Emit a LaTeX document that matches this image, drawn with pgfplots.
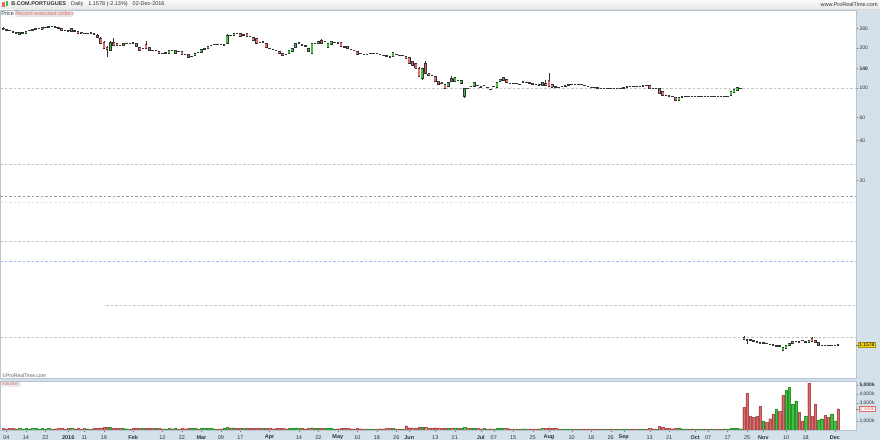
\documentclass[border=0pt]{standalone}
\usepackage{pgfplots}
\pgfplotsset{compat=1.18}
\usepackage{pgfplotstable}
\usepackage{fontspec}
\setmainfont{Liberation Sans}
\definecolor{panel}{HTML}{D4E1EB}
\definecolor{axisc}{HTML}{B4C4D2}
\definecolor{upc}{HTML}{3DC43D}
\definecolor{dnc}{HTML}{E26A6A}
\definecolor{outl}{HTML}{333333}
\definecolor{gridc}{HTML}{C4C4C4}
\definecolor{gridd}{HTML}{9C9C9C}
\definecolor{gridb}{HTML}{9DB8F2}
\definecolor{ybox}{HTML}{F2D21B}
\definecolor{labc}{HTML}{333333}

% wicks: low, high per candle
\pgfplotstableread[row sep=\\]{
x y\\
-20 275.3\\ -20 285.0\\ -20 nan\\
9 241.8\\ 9 252.5\\ 9 nan\\
10 216.0\\ 10 239.7\\ 10 nan\\
11 199.0\\ 11 225.6\\ 11 nan\\
12 171.0\\ 12 206.9\\ 12 nan\\
13 191.4\\ 13 223.7\\ 13 nan\\
14 208.7\\ 14 237.6\\ 14 nan\\
24 199.9\\ 24 223.7\\ 24 nan\\
49 216.0\\ 49 252.5\\ 49 nan\\
75 180.1\\ 75 219.0\\ 75 nan\\
78 217.9\\ 78 233.5\\ 78 nan\\
100 171.0\\ 100 186.5\\ 100 nan\\
105 152.0\\ 105 171.0\\ 105 nan\\
108 119.9\\ 108 143.9\\ 108 nan\\
109 114.8\\ 109 140.5\\ 109 nan\\
110 128.0\\ 110 159.6\\ 110 nan\\
113 110.0\\ 113 123.1\\ 113 nan\\
116 98.3\\ 116 107.2\\ 116 nan\\
118 111.6\\ 118 123.1\\ 118 nan\\
122 84.1\\ 122 100.0\\ 122 nan\\
147 105.3\\ 147 114.8\\ 147 nan\\
148 103.5\\ 148 129.7\\ 148 nan\\
182 90.9\\ 182 100.0\\ 182 nan\\
187 79.2\\ 187 85.6\\ 187 nan\\
208 1.274\\ 208 1.342\\ 208 nan\\
209 1.169\\ 209 1.274\\ 209 nan\\
220 1.044\\ 220 1.110\\ 220 nan\\
229 1.237\\ 229 1.330\\ 229 nan\\
}\wicks

% rising candles: open, close
\pgfplotstableread[row sep=\\]{
x y\\
-15 254.7\\ -15 261.3\\ -15 nan\\
-14 259.1\\ -14 261.3\\ -14 nan\\
-13 259.1\\ -13 268.2\\ -13 nan\\
-12 270.5\\ -12 272.9\\ -12 nan\\
-11 272.9\\ -11 275.3\\ -11 nan\\
-10 275.3\\ -10 282.5\\ -10 nan\\
-9 279.1\\ -9 281.0\\ -9 nan\\
-8 277.7\\ -8 285.0\\ -8 nan\\
-7 285.0\\ -7 286.5\\ -7 nan\\
-6 287.5\\ -6 292.5\\ -6 nan\\
1 268.2\\ 1 280.1\\ 1 nan\\
6 256.9\\ 6 259.1\\ 6 nan\\
13 193.1\\ 13 221.7\\ 13 nan\\
17 210.5\\ 17 216.0\\ 17 nan\\
18 216.0\\ 18 216.8\\ 18 nan\\
23 198.2\\ 23 198.9\\ 23 nan\\
27 191.4\\ 27 193.1\\ 27 nan\\
30 183.3\\ 30 184.9\\ 30 nan\\
31 183.3\\ 31 193.1\\ 31 nan\\
33 183.3\\ 33 193.1\\ 33 nan\\
38 171.9\\ 38 174.0\\ 38 nan\\
39 177.0\\ 39 183.3\\ 39 nan\\
41 186.5\\ 41 196.4\\ 41 nan\\
42 196.4\\ 42 198.2\\ 42 nan\\
43 199.9\\ 43 206.9\\ 43 nan\\
44 208.7\\ 44 210.5\\ 44 nan\\
45 212.3\\ 45 214.2\\ 45 nan\\
48 210.5\\ 48 212.3\\ 48 nan\\
49 217.9\\ 49 250.3\\ 49 nan\\
51 250.3\\ 51 259.1\\ 51 nan\\
54 250.3\\ 54 251.6\\ 54 nan\\
60 221.7\\ 60 222.9\\ 60 nan\\
68 183.3\\ 68 193.1\\ 68 nan\\
69 189.7\\ 69 199.9\\ 69 nan\\
70 203.4\\ 70 217.9\\ 70 nan\\
71 217.9\\ 71 219.8\\ 71 nan\\
75 183.3\\ 75 217.9\\ 75 nan\\
77 217.9\\ 77 222.9\\ 77 nan\\
79 222.9\\ 79 223.7\\ 79 nan\\
80 203.4\\ 80 217.9\\ 80 nan\\
81 214.2\\ 81 222.9\\ 81 nan\\
82 219.0\\ 82 219.8\\ 82 nan\\
92 179.2\\ 92 180.1\\ 92 nan\\
93 181.7\\ 93 182.3\\ 93 nan\\
94 181.7\\ 94 182.3\\ 94 nan\\
100 171.9\\ 100 184.3\\ 100 nan\\
103 176.1\\ 103 177.0\\ 103 nan\\
109 118.3\\ 109 140.5\\ 109 nan\\
117 103.5\\ 117 109.6\\ 117 nan\\
119 111.6\\ 119 119.5\\ 119 nan\\
121 108.5\\ 121 114.8\\ 121 nan\\
122 87.1\\ 122 100.0\\ 122 nan\\
124 102.3\\ 124 102.6\\ 124 nan\\
125 103.5\\ 125 111.0\\ 125 nan\\
128 104.8\\ 128 105.3\\ 128 nan\\
131 102.3\\ 131 102.6\\ 131 nan\\
132 101.7\\ 132 111.0\\ 132 nan\\
133 112.9\\ 133 116.9\\ 133 nan\\
134 114.8\\ 134 121.0\\ 134 nan\\
138 108.1\\ 138 108.5\\ 138 nan\\
140 109.6\\ 140 111.6\\ 140 nan\\
141 110.0\\ 141 111.0\\ 141 nan\\
146 105.3\\ 146 111.0\\ 146 nan\\
152 102.3\\ 152 102.6\\ 152 nan\\
153 103.5\\ 153 104.1\\ 153 nan\\
154 105.3\\ 154 105.9\\ 154 nan\\
155 106.2\\ 155 106.6\\ 155 nan\\
157 106.2\\ 157 106.6\\ 157 nan\\
164 99.1\\ 164 100.0\\ 164 nan\\
166 99.5\\ 166 100.0\\ 166 nan\\
168 99.5\\ 168 100.0\\ 168 nan\\
170 99.5\\ 170 100.0\\ 170 nan\\
171 100.0\\ 171 100.5\\ 171 nan\\
172 101.7\\ 172 103.5\\ 172 nan\\
176 102.3\\ 176 102.6\\ 176 nan\\
177 103.5\\ 177 104.4\\ 177 nan\\
181 99.1\\ 181 99.5\\ 181 nan\\
188 81.3\\ 188 85.2\\ 188 nan\\
189 85.6\\ 189 86.1\\ 189 nan\\
190 86.1\\ 190 86.3\\ 190 nan\\
192 86.3\\ 192 86.6\\ 192 nan\\
194 86.3\\ 194 86.6\\ 194 nan\\
195 86.6\\ 195 87.1\\ 195 nan\\
197 86.6\\ 197 87.1\\ 197 nan\\
199 86.6\\ 199 87.1\\ 199 nan\\
201 86.6\\ 201 87.1\\ 201 nan\\
203 86.6\\ 203 87.1\\ 203 nan\\
204 88.6\\ 204 95.0\\ 204 nan\\
205 93.3\\ 205 97.5\\ 205 nan\\
206 96.6\\ 206 101.2\\ 206 nan\\
207 99.5\\ 207 100.0\\ 207 nan\\
214 1.200\\ 214 1.204\\ 214 nan\\
218 1.139\\ 218 1.148\\ 218 nan\\
220 1.053\\ 220 1.110\\ 220 nan\\
221 1.101\\ 221 1.148\\ 221 nan\\
222 1.148\\ 222 1.189\\ 222 nan\\
223 1.189\\ 223 1.231\\ 223 nan\\
225 1.220\\ 225 1.241\\ 225 nan\\
227 1.220\\ 227 1.225\\ 227 nan\\
228 1.210\\ 228 1.252\\ 228 nan\\
233 1.154\\ 233 1.158\\ 233 nan\\
235 1.142\\ 235 1.148\\ 235 nan\\
}\upbody

% falling candles: open, close
\pgfplotstableread[row sep=\\]{
x y\\
-20 282.5\\ -20 277.7\\ -20 nan\\
-19 275.3\\ -19 272.9\\ -19 nan\\
-18 272.9\\ -18 270.5\\ -18 nan\\
-17 268.2\\ -17 261.3\\ -17 nan\\
-16 261.3\\ -16 259.1\\ -16 nan\\
-5 290.0\\ -5 288.9\\ -5 nan\\
-4 288.9\\ -4 286.5\\ -4 nan\\
-3 287.5\\ -3 280.1\\ -3 nan\\
-2 280.1\\ -2 272.9\\ -2 nan\\
-1 272.9\\ -1 271.5\\ -1 nan\\
0 270.5\\ 0 268.2\\ 0 nan\\
2 270.5\\ 2 268.2\\ 2 nan\\
3 265.9\\ 3 259.1\\ 3 nan\\
4 261.3\\ 4 260.0\\ 4 nan\\
5 259.1\\ 5 256.9\\ 5 nan\\
7 261.3\\ 7 260.0\\ 7 nan\\
8 256.9\\ 8 254.7\\ 8 nan\\
9 250.3\\ 9 241.8\\ 9 nan\\
10 237.6\\ 10 217.9\\ 10 nan\\
11 221.7\\ 11 199.9\\ 11 nan\\
12 203.4\\ 12 196.4\\ 12 nan\\
14 221.7\\ 14 210.5\\ 14 nan\\
15 216.0\\ 15 208.7\\ 15 nan\\
16 210.5\\ 16 208.7\\ 16 nan\\
19 217.9\\ 19 216.8\\ 19 nan\\
20 219.0\\ 20 217.9\\ 20 nan\\
21 217.9\\ 21 205.1\\ 21 nan\\
22 203.4\\ 22 193.1\\ 22 nan\\
24 214.2\\ 24 199.9\\ 24 nan\\
25 203.4\\ 25 193.1\\ 25 nan\\
26 193.1\\ 26 191.4\\ 26 nan\\
28 189.7\\ 28 183.3\\ 28 nan\\
29 183.3\\ 29 182.3\\ 29 nan\\
32 193.1\\ 32 191.4\\ 32 nan\\
34 188.1\\ 34 187.5\\ 34 nan\\
35 188.1\\ 35 180.1\\ 35 nan\\
36 180.1\\ 36 179.2\\ 36 nan\\
37 180.1\\ 37 171.0\\ 37 nan\\
40 186.5\\ 40 184.9\\ 40 nan\\
46 214.2\\ 46 213.1\\ 46 nan\\
47 214.2\\ 47 212.3\\ 47 nan\\
50 250.3\\ 50 249.0\\ 50 nan\\
52 259.1\\ 52 257.8\\ 52 nan\\
53 259.1\\ 53 246.0\\ 53 nan\\
55 256.9\\ 55 243.9\\ 55 nan\\
56 246.0\\ 56 244.7\\ 56 nan\\
57 241.8\\ 57 229.6\\ 57 nan\\
58 237.6\\ 58 217.9\\ 58 nan\\
59 221.7\\ 59 220.5\\ 59 nan\\
61 217.9\\ 61 203.4\\ 61 nan\\
62 199.9\\ 62 198.9\\ 62 nan\\
63 196.4\\ 63 195.4\\ 63 nan\\
64 193.1\\ 64 191.4\\ 64 nan\\
65 189.7\\ 65 183.3\\ 65 nan\\
66 183.3\\ 66 177.0\\ 66 nan\\
67 180.1\\ 67 179.2\\ 67 nan\\
72 212.3\\ 72 210.5\\ 72 nan\\
73 208.7\\ 73 206.9\\ 73 nan\\
74 199.9\\ 74 189.7\\ 74 nan\\
76 217.9\\ 76 216.8\\ 76 nan\\
78 229.6\\ 78 217.9\\ 78 nan\\
83 219.0\\ 83 217.9\\ 83 nan\\
84 219.0\\ 84 206.9\\ 84 nan\\
85 206.9\\ 85 203.4\\ 85 nan\\
86 206.9\\ 86 198.9\\ 86 nan\\
87 195.4\\ 87 194.7\\ 87 nan\\
88 193.1\\ 88 191.4\\ 88 nan\\
89 187.5\\ 89 180.1\\ 89 nan\\
90 182.3\\ 90 181.7\\ 90 nan\\
91 180.1\\ 91 179.2\\ 91 nan\\
95 182.3\\ 95 181.7\\ 95 nan\\
96 180.1\\ 96 179.2\\ 96 nan\\
97 177.0\\ 97 176.1\\ 97 nan\\
98 177.0\\ 98 171.9\\ 98 nan\\
99 174.0\\ 99 168.9\\ 99 nan\\
101 180.1\\ 101 179.2\\ 101 nan\\
102 177.0\\ 102 176.1\\ 102 nan\\
104 174.0\\ 104 167.2\\ 104 nan\\
105 170.1\\ 105 153.4\\ 105 nan\\
106 157.7\\ 106 148.9\\ 106 nan\\
107 153.4\\ 107 140.5\\ 107 nan\\
108 140.5\\ 108 121.6\\ 108 nan\\
110 153.4\\ 110 128.0\\ 110 nan\\
111 128.0\\ 111 123.7\\ 111 nan\\
112 125.2\\ 112 124.5\\ 112 nan\\
113 121.6\\ 113 111.6\\ 113 nan\\
114 111.6\\ 114 107.2\\ 114 nan\\
115 109.6\\ 115 109.0\\ 115 nan\\
116 106.6\\ 116 99.5\\ 116 nan\\
118 118.3\\ 118 111.6\\ 118 nan\\
120 114.8\\ 120 114.2\\ 120 nan\\
123 100.0\\ 123 99.5\\ 123 nan\\
126 105.3\\ 126 104.8\\ 126 nan\\
127 102.3\\ 127 101.7\\ 127 nan\\
129 101.7\\ 129 101.2\\ 129 nan\\
130 98.3\\ 130 97.8\\ 130 nan\\
135 116.9\\ 135 109.6\\ 135 nan\\
136 109.0\\ 136 108.5\\ 136 nan\\
137 108.5\\ 137 108.1\\ 137 nan\\
139 107.2\\ 139 106.6\\ 139 nan\\
142 109.6\\ 142 109.0\\ 142 nan\\
143 109.0\\ 143 107.2\\ 143 nan\\
144 107.2\\ 144 106.6\\ 144 nan\\
145 107.2\\ 145 105.3\\ 145 nan\\
147 109.0\\ 147 105.3\\ 147 nan\\
148 114.8\\ 148 103.5\\ 148 nan\\
149 107.2\\ 149 101.7\\ 149 nan\\
150 102.3\\ 150 101.7\\ 150 nan\\
151 101.7\\ 151 101.2\\ 151 nan\\
156 106.6\\ 156 106.2\\ 156 nan\\
158 106.6\\ 158 106.2\\ 158 nan\\
159 105.3\\ 159 104.8\\ 159 nan\\
160 103.5\\ 160 103.0\\ 160 nan\\
161 101.7\\ 161 101.2\\ 161 nan\\
162 101.2\\ 162 100.8\\ 162 nan\\
163 100.5\\ 163 100.0\\ 163 nan\\
165 100.0\\ 165 99.5\\ 165 nan\\
167 100.0\\ 167 99.5\\ 167 nan\\
169 100.0\\ 169 99.5\\ 169 nan\\
173 103.5\\ 173 103.0\\ 173 nan\\
174 103.0\\ 174 102.6\\ 174 nan\\
175 102.6\\ 175 102.3\\ 175 nan\\
178 104.4\\ 178 104.1\\ 178 nan\\
179 104.1\\ 179 99.5\\ 179 nan\\
180 99.5\\ 180 99.1\\ 180 nan\\
182 99.5\\ 182 91.7\\ 182 nan\\
183 93.9\\ 183 88.6\\ 183 nan\\
184 88.6\\ 184 88.1\\ 184 nan\\
185 87.8\\ 185 87.1\\ 185 nan\\
186 87.1\\ 186 86.3\\ 186 nan\\
187 85.2\\ 187 80.3\\ 187 nan\\
191 86.3\\ 191 86.1\\ 191 nan\\
193 86.6\\ 193 86.3\\ 193 nan\\
196 87.1\\ 196 86.6\\ 196 nan\\
198 87.1\\ 198 86.6\\ 198 nan\\
200 87.1\\ 200 86.6\\ 200 nan\\
202 87.1\\ 202 86.6\\ 202 nan\\
208 1.319\\ 208 1.285\\ 208 nan\\
209 1.274\\ 209 1.263\\ 209 nan\\
210 1.274\\ 210 1.263\\ 210 nan\\
211 1.263\\ 211 1.241\\ 211 nan\\
212 1.241\\ 212 1.210\\ 212 nan\\
213 1.210\\ 213 1.200\\ 213 nan\\
215 1.189\\ 215 1.183\\ 215 nan\\
216 1.179\\ 216 1.169\\ 216 nan\\
217 1.163\\ 217 1.154\\ 217 nan\\
219 1.154\\ 219 1.123\\ 219 nan\\
224 1.231\\ 224 1.225\\ 224 nan\\
226 1.252\\ 226 1.245\\ 226 nan\\
229 1.297\\ 229 1.237\\ 229 nan\\
230 1.252\\ 230 1.204\\ 230 nan\\
231 1.204\\ 231 1.154\\ 231 nan\\
232 1.154\\ 232 1.148\\ 232 nan\\
234 1.154\\ 234 1.142\\ 234 nan\\
236 1.148\\ 236 1.142\\ 236 nan\\
237 1.169\\ 237 1.158\\ 237 nan\\
}\dnbody

% volume (thousands): up / down
\pgfplotstableread[row sep=\\]{
i u d\\
-20 nan 150\\ -19 nan 120\\ -18 nan 130\\ -17 nan 160\\ -16 nan 120\\
-15 140 nan\\ -14 110 nan\\ -13 150 nan\\ -12 120 nan\\ -11 130 nan\\
-10 160 nan\\ -9 110 nan\\ -8 140 nan\\ -7 100 nan\\ -6 130 nan\\
-5 nan 110\\ -4 nan 120\\ -3 nan 150\\ -2 nan 140\\ -1 nan 100\\
0 nan 130\\ 1 150 nan\\ 2 nan 120\\ 3 nan 140\\ 4 nan 110\\ 5 nan 130\\ 6 120 nan\\ 7 nan 110\\ 8 nan 150\\ 9 nan 180\\
10 nan 220\\ 11 nan 240\\ 12 nan 300\\ 13 250 nan\\ 14 nan 180\\ 15 nan 150\\ 16 nan 130\\ 17 140 nan\\ 18 120 nan\\ 19 nan 110\\
20 nan 130\\ 21 nan 170\\ 22 nan 190\\ 23 140 nan\\ 24 nan 180\\ 25 nan 170\\ 26 nan 140\\ 27 130 nan\\ 28 nan 160\\ 29 nan 120\\
30 110 nan\\ 31 150 nan\\ 32 nan 120\\ 33 160 nan\\ 34 nan 110\\ 35 nan 150\\ 36 nan 120\\ 37 nan 170\\ 38 130 nan\\ 39 140 nan\\
40 nan 120\\ 41 190 nan\\ 42 140 nan\\ 43 170 nan\\ 44 130 nan\\ 45 120 nan\\ 46 nan 110\\ 47 nan 120\\ 48 150 nan\\ 49 280 nan\\
50 nan 220\\ 51 230 nan\\ 52 nan 170\\ 53 nan 180\\ 54 140 nan\\ 55 nan 200\\ 56 nan 150\\ 57 nan 170\\ 58 nan 190\\ 59 nan 140\\
60 130 nan\\ 61 nan 170\\ 62 nan 140\\ 63 nan 120\\ 64 nan 130\\ 65 nan 160\\ 66 nan 170\\ 67 nan 120\\ 68 180 nan\\ 69 190 nan\\
70 200 nan\\ 71 150 nan\\ 72 nan 130\\ 73 nan 120\\ 74 nan 160\\ 75 230 nan\\ 76 nan 140\\ 77 170 nan\\ 78 nan 180\\ 79 130 nan\\
80 160 nan\\ 81 150 nan\\ 82 110 nan\\ 83 nan 120\\ 84 nan 140\\ 85 nan 130\\ 86 nan 150\\ 87 nan 120\\ 88 nan 110\\ 89 nan 160\\
90 nan 120\\ 91 nan 110\\ 92 100 nan\\ 93 110 nan\\ 94 100 nan\\ 95 nan 110\\ 96 nan 120\\ 97 nan 110\\ 98 nan 140\\ 99 nan 150\\
100 170 nan\\ 101 nan 110\\ 102 nan 100\\ 103 110 nan\\ 104 nan 450\\ 105 nan 230\\ 106 nan 210\\ 107 nan 220\\ 108 nan 260\\ 109 300 nan\\
110 nan 240\\ 111 nan 170\\ 112 nan 140\\ 113 nan 230\\ 114 nan 210\\ 115 nan 150\\ 116 nan 200\\ 117 180 nan\\ 118 nan 190\\ 119 170 nan\\
120 nan 130\\ 121 160 nan\\ 122 280 nan\\ 123 nan 170\\ 124 150 nan\\ 125 180 nan\\ 126 nan 130\\ 127 nan 120\\ 128 140 nan\\ 129 nan 110\\
130 nan 120\\ 131 110 nan\\ 132 170 nan\\ 133 160 nan\\ 134 170 nan\\ 135 nan 140\\ 136 nan 110\\ 137 nan 100\\ 138 100 nan\\ 139 nan 110\\
140 120 nan\\ 141 110 nan\\ 142 nan 100\\ 143 nan 110\\ 144 nan 100\\ 145 nan 120\\ 146 130 nan\\ 147 nan 170\\ 148 nan 230\\ 149 nan 170\\
150 nan 130\\ 151 nan 110\\ 152 100 nan\\ 153 110 nan\\ 154 100 nan\\ 155 90 nan\\ 156 nan 100\\ 157 90 nan\\ 158 nan 100\\ 159 nan 110\\
160 nan 110\\ 161 nan 100\\ 162 nan 90\\ 163 nan 100\\ 164 110 nan\\ 165 nan 90\\ 166 80 nan\\ 167 nan 90\\ 168 80 nan\\ 169 nan 90\\
170 80 nan\\ 171 90 nan\\ 172 110 nan\\ 173 nan 100\\ 174 nan 90\\ 175 nan 80\\ 176 90 nan\\ 177 100 nan\\ 178 nan 100\\ 179 nan 160\\
180 nan 120\\ 181 110 nan\\ 182 nan 420\\ 183 nan 250\\ 184 nan 170\\ 185 nan 150\\ 186 nan 120\\ 187 nan 180\\ 188 160 nan\\ 189 120 nan\\
190 100 nan\\ 191 nan 90\\ 192 90 nan\\ 193 nan 80\\ 194 90 nan\\ 195 80 nan\\ 196 nan 90\\ 197 80 nan\\ 198 nan 90\\ 199 80 nan\\
200 nan 90\\ 201 80 nan\\ 202 nan 90\\ 203 100 nan\\ 204 150 nan\\ 205 140 nan\\ 206 130 nan\\ 207 120 nan\\
208 nan 2480\\ 209 nan 4070\\ 210 nan 1550\\ 211 nan 1400\\ 212 nan 1550\\ 213 nan 2600\\ 214 1000 nan\\ 215 nan 850\\ 216 nan 1230\\ 217 nan 1780\\
218 2330 nan\\ 219 nan 2040\\ 220 nan 3820\\ 221 4370 nan\\ 222 4740 nan\\ 223 2810 nan\\ 224 3220 nan\\ 225 nan 1960\\ 226 nan 1000\\ 227 1550 nan\\
228 nan 5180\\ 229 nan 1550\\ 230 nan 2890\\ 231 1110 nan\\ 232 1230 nan\\ 233 nan 1590\\ 234 nan 1370\\ 235 1780 nan\\ 236 1000 nan\\ 237 nan 2344\\
}\vol

\begin{document}
\begin{tikzpicture}[x=1pt,y=1pt,font=\fontsize{5.5}{6.5}\selectfont]
% backgrounds
\fill[white] (0,0) rectangle (880,440);
\fill[panel] (856,0) rectangle (880,431);
\fill[panel] (0,0) rectangle (880,10);
\fill[panel] (0,59) rectangle (856,61.5);
\shade[top color=white!95!gray, bottom color=white!82!gray] (0,431) rectangle (880,440);
\draw[white!70!gray, line width=0.4pt] (0,431) -- (880,431);
% header icon
\fill[dnc] (2,432.5) rectangle (4.6,437.5);
\fill[upc] (5.4,433.5) rectangle (8,439);
% header texts
\node[anchor=west, inner sep=0pt, text=labc] at (11,435.6) {\textbf{B.COM.PORTUGUES}\hspace{5pt}Daily\hspace{5pt}1.1578 (-2.13\%)\hspace{5pt}02-Dec-2016};
\node[anchor=east, inner sep=0pt, text=labc] at (878,435.6) {www.ProRealTime.com};
% panel labels
\fill[white!88!panel] (0,422.5) rectangle (14,430.5);
\node[anchor=west, inner sep=0pt, text=labc] at (1,426.5) {Price};
\fill[white!80!gray] (14.5,422.5) rectangle (73,430.5);
\node[anchor=west, inner sep=0pt, text=dnc] at (15,426.5) {Recent executed orders};
\node[anchor=west, inner sep=0pt, text=labc!80!white] at (2,64) {\fontsize{5}{6}\selectfont ©ProRealTime.com};
\fill[white!85!gray] (0,52.5) rectangle (21,59);
\node[anchor=west, inner sep=0pt, text=dnc] at (1,55.8) {\fontsize{5}{6}\selectfont Volume};

% ---------------- price panel ----------------
\begin{axis}[
  at={(0pt,61.5pt)}, anchor=south west, scale only axis,
  width=856pt, height=368.5pt,
  xmin=-20.92, xmax=242.46,
  ymode=log, ymin=0.6486, ymax=385.9,
  unbounded coords=jump,
  axis line style={draw=axisc, line width=0.5pt},
  xtick=\empty,
  ytick={20,40,60,100,140,200,280},
  yticklabels={20,40,60,100,\textbf{140},200,280},
  minor ytick={22,24,26,28,30,32,34,36,38,45,50,55,65,70,80,90,110,120,130,150,160,170,180,190,220,240,260,300,320,340,360},
  ytick pos=right, yticklabel pos=right,
  tick align=outside, major tick length=2.5pt, minor tick length=1.3pt,
  tick style={draw=labc!70!white, line width=0.35pt},
  yticklabel style={font=\fontsize{5}{6}\selectfont, text=labc, inner sep=1pt},
  extra y ticks={1.1578}, extra y tick labels={1.1578},
  extra y tick style={yticklabel style={fill=ybox, draw=ybox!70!black, inner sep=0.7pt, text=black}},
]
% horizontal lines
\addplot[gridc, dash pattern=on 2.5pt off 2pt, line width=0.5pt] coordinates {(-20.92,100) (242.46,100)};
\addplot[gridc, dash pattern=on 2.5pt off 2pt, line width=0.5pt] coordinates {(-20.92,26.37) (242.46,26.37)};
\addplot[gridd, dash pattern=on 2.5pt off 2pt, line width=0.6pt] coordinates {(-20.92,15.15) (242.46,15.15)};
\addplot[gridc!50!white, dash pattern=on 2.5pt off 2pt, line width=0.4pt] coordinates {(-20.92,13.66) (242.46,13.66)};
\addplot[gridc, dash pattern=on 2.5pt off 2pt, line width=0.5pt] coordinates {(-20.92,6.95) (242.46,6.95)};
\addplot[gridb, dash pattern=on 2.5pt off 2pt, line width=0.5pt] coordinates {(-20.92,4.92) (242.46,4.92)};
\addplot[gridc, dash pattern=on 2.5pt off 2pt, line width=0.5pt] coordinates {(11.7,2.30) (242.46,2.30)};
\addplot[gridc, dash pattern=on 2.5pt off 2pt, line width=0.5pt] coordinates {(-20.92,1.319) (242.46,1.319)};
% wicks
\addplot[outl, line width=0.5pt] table[x=x,y=y] {\wicks};
% bodies
\addplot[outl, line width=2.6pt] table[x=x,y=y] {\upbody};
\addplot[upc, line width=1.8pt] table[x=x,y=y] {\upbody};
\addplot[outl, line width=2.6pt] table[x=x,y=y] {\dnbody};
\addplot[dnc, line width=1.8pt] table[x=x,y=y] {\dnbody};
\addplot[only marks, mark=-, mark size=1.25pt, mark options={draw=outl, line width=0.45pt}] table[x=x,y=y] {\upbody};
\addplot[only marks, mark=-, mark size=1.25pt, mark options={draw=outl, line width=0.45pt}] table[x=x,y=y] {\dnbody};
\end{axis}

% ---------------- volume panel ----------------
\begin{axis}[
  at={(0pt,10pt)}, anchor=south west, scale only axis,
  width=856pt, height=49pt,
  xmin=-20.92, xmax=242.46, ymin=0, ymax=5444,
  unbounded coords=jump,
  axis line style={draw=axisc, line width=0.5pt},
  scaled y ticks=false,
  ytick={1000,3000,4000,5000},
  yticklabels={{1,000k},{3,000k},{4,000k},{\textbf{5,000k}}},
  ytick pos=right, yticklabel pos=right,
  tick align=outside, major tick length=2.5pt,
  tick style={draw=labc!70!white, line width=0.35pt},
  yticklabel style={font=\fontsize{5}{6}\selectfont, text=labc, inner sep=1pt},
  xtick={-19,-13,-7,0,5,11,20,29,35,41,47,53,62,71,77,83,89,95,101,105,113,119,127,131,137,143,148,155,161,167,171,179,185,193,197,203,209,214,221,227,236},
  xticklabels={04,14,22,\textbf{2016},11,19,\textbf{Feb},12,22,\textbf{Mar},09,17,\textbf{Apr},14,22,\textbf{May},10,18,26,\textbf{Jun},13,21,\textbf{Jul},07,15,25,\textbf{Aug},10,18,26,\textbf{Sep},13,21,\textbf{Oct},07,17,25,\textbf{Nov},10,18,\textbf{Dec}},
  xtick pos=bottom,
  xticklabel style={font=\fontsize{5.5}{6.5}\selectfont, text=labc, anchor=center, yshift=-5.3pt},
]
\addplot[ybar, bar width=2.4pt, bar shift=0pt, fill=upc, draw=upc!75!black, line width=0.3pt] table[x=i,y=u] {\vol};
\addplot[ybar, bar width=2.4pt, bar shift=0pt, fill=dnc, draw=dnc!75!black, line width=0.3pt] table[x=i,y=d] {\vol};
\end{axis}
% last-volume value tag on the right scale
\draw[labc!70!white, line width=0.35pt] (856,31.1) -- (858.5,31.1);
\node[anchor=west, fill=white, draw=dnc, text=dnc, inner sep=0.6pt, font=\fontsize{5}{6}\selectfont] at (859,31.1) {2,344k};
\end{tikzpicture}
\end{document}
